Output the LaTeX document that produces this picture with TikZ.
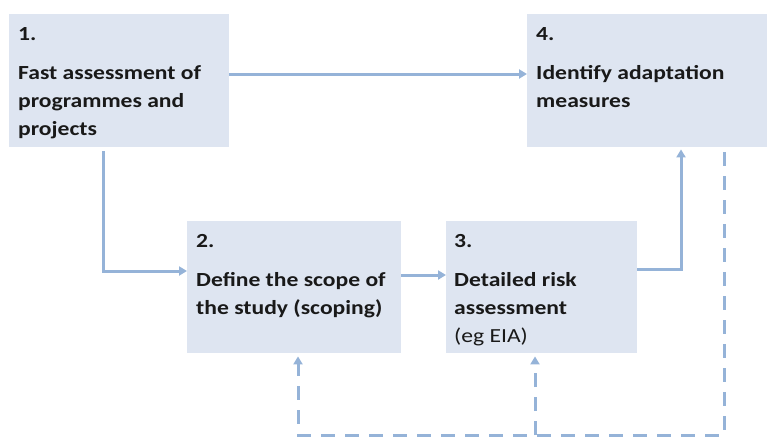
\documentclass[tikz,border=0pt]{standalone}
\usepackage{fontspec}
\setmainfont{Carlito}
\usetikzlibrary{arrows.meta}
\definecolor{boxfill}{HTML}{DEE5F1}
\definecolor{arrcol}{HTML}{95B3D8}
\newcommand{\boxtext}[1]{\scalebox{1.18}[1]{\begin{tabular}[t]{@{}l@{}}#1\end{tabular}}}
\tikzset{
  box/.style={fill=boxfill, draw=none, inner sep=0pt, anchor=north west},
  lbl/.style={anchor=base west, inner sep=0pt, font=\fontsize{20}{28}\selectfont\bfseries, text=black!90},
  conn/.style={draw=arrcol, line width=3pt, -{Triangle[length=8pt,width=9pt]}},
  fb/.style={conn, dash pattern=on 14pt off 10pt},
}
\begin{document}
\begin{tikzpicture}[x=1pt,y=-1pt]
\useasboundingbox (0,0) rectangle (767,437);
% boxes
\node[box, minimum width=220pt, minimum height=133pt] (b1) at (9,14) {};
\node[box, minimum width=240pt, minimum height=133pt] (b4) at (527,14) {};
\node[box, minimum width=214pt, minimum height=132pt] (b2) at (187,221) {};
\node[box, minimum width=191pt, minimum height=132pt] (b3) at (446,221) {};
% labels
\node[lbl] (t1n) at (18,40) {\boxtext{1.}};
\node[lbl] (t1) at (18,79) {\boxtext{Fast assessment of\\programmes and\\projects}};
\node[lbl] (t4n) at (536,40) {\boxtext{4.}};
\node[lbl] (t4) at (536,79) {\boxtext{Identify adaptation\\measures}};
\node[lbl] (t2n) at (196,247) {\boxtext{2.}};
\node[lbl] (t2) at (196,286) {\boxtext{Define the scope of\\the study (scoping)}};
\node[lbl] (t3n) at (454,247) {\boxtext{3.}};
\node[lbl] (t3) at (454,286) {\boxtext{Detailed risk\\assessment\\\mdseries (eg EIA)}};
% connectors
\draw[conn] (b1.east |- 0,74) -- (b4.west |- 0,74);
\draw[conn, shorten <=4pt] (b1.south -| 103,0) |- (b2.west |- 0,271);
\draw[conn] (b2.east |- 0,275) -- (b3.west |- 0,275);
\draw[conn, shorten >=2pt] (b3.east |- 0,269) -| (b4.south -| 681,0);
% feedback dashed
\coordinate (c1) at (724,435);
\coordinate (c2) at (535,435);
\draw[fb, shorten <=5pt, shorten >=3pt] (b4.south -| 724,0) -- (c1) -- (298,435) -- (b2.south -| 298,0);
\draw[fb, shorten >=3pt] (c2) -- (b3.south -| c2);
\end{tikzpicture}
\end{document}
